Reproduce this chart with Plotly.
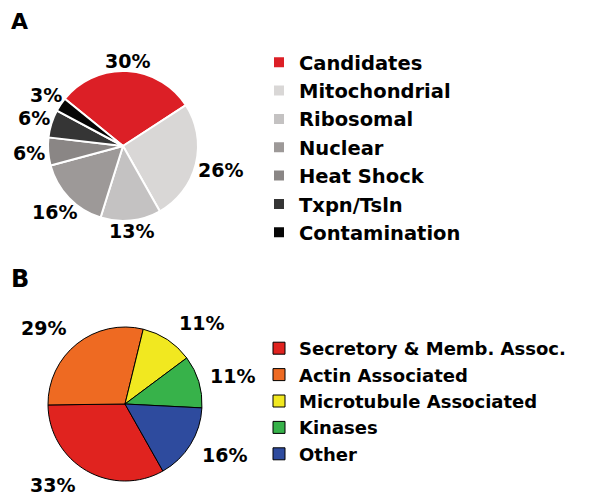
import math
import plotly.graph_objects as go

# Panel A data
a_labels = ["Candidates", "Mitochondrial", "Ribosomal", "Nuclear", "Heat Shock", "Txpn/Tsln", "Contamination"]
a_values = [30, 26, 13, 16, 6, 6, 3]
a_colors = ["#dc1f26", "#d9d7d6", "#c4c2c2", "#9d9998", "#8a8685", "#353535", "#060606"]

# Panel B data
b_labels = ["Secretory & Memb. Assoc.", "Actin Associated", "Microtubule Associated", "Kinases", "Other"]
b_values = [33, 29, 11, 11, 16]
b_colors = ["#e0231f", "#ee6a22", "#f1e820", "#37b24a", "#2e4b9e"]

FONT = "DejaVu Sans"
W, H = 589, 497
PAGE_OFF = 8          # default <body> margin of the page holding the figure
LABEL_SIZE = 19

# pie geometry in page pixels: centre x, centre y, radius, start angle (clockwise from 12 o'clock)
A_GEOM = dict(cx=123, cy=146, r=75, rot=309)
B_GEOM = dict(cx=125, cy=404, r=77, rot=150.5)


def fx(px):
    return (px - PAGE_OFF) / W


def fy(py):
    return 1 - (py - PAGE_OFF) / H


def dom(g):
    cx, cy, r = g["cx"], g["cy"], g["r"]
    return dict(x=[fx(cx - r), fx(cx + r)], y=[fy(cy + r), fy(cy - r)])


def text_width(s, size):
    return sum(1.002 if ch == "%" else 0.696 for ch in s) * size


def pct_labels(values, g, mode):
    total = float(sum(values))
    anns = []
    cum = 0.0
    for v in values:
        mid = math.radians(g["rot"] + (cum + v / 2.0) / total * 360.0)
        cum += v
        s, c = math.sin(mid), math.cos(mid)
        txt = f"{v}%"
        hw = text_width(txt, LABEL_SIZE) / 2.0
        hh = 0.73 * LABEL_SIZE / 2.0
        if mode == "edge":
            d = g["r"] + 3 + math.hypot(hw * s, hh * c)
            px, py = g["cx"] + d * s, g["cy"] - d * c
        else:
            px = g["cx"] + g["r"] * s + math.copysign(hw + 11, s)
            py = g["cy"] - g["r"] * c - 20 * c
        py = min(py, H - 12)  # keep the label inside the picture
        anns.append(dict(text=txt, x=fx(px), y=fy(py), xref="paper", yref="paper",
                         xanchor="center", yanchor="middle", showarrow=False,
                         font=dict(family=FONT, size=LABEL_SIZE, color="black", weight="bold")))
    return anns


fig = go.Figure()
fig.add_trace(go.Pie(
    labels=a_labels, values=a_values, sort=False, direction="clockwise", rotation=A_GEOM["rot"],
    marker=dict(colors=a_colors, line=dict(color="white", width=2)),
    textinfo="none", domain=dom(A_GEOM),
    legend="legend", hoverinfo="label+percent",
))
fig.add_trace(go.Pie(
    labels=b_labels, values=b_values, sort=False, direction="clockwise", rotation=B_GEOM["rot"],
    marker=dict(colors=b_colors, line=dict(color="black", width=1)),
    textinfo="none", domain=dom(B_GEOM),
    legend="legend2", hoverinfo="label+percent",
))

annotations = pct_labels(a_values, A_GEOM, "edge") + pct_labels(b_values, B_GEOM, "side")
annotations += [
    dict(text="A", x=1 / W, y=1 + 1 / H, xref="paper", yref="paper",
         xanchor="left", yanchor="top", showarrow=False,
         font=dict(family=FONT, size=22, color="black", weight="bold")),
    dict(text="B", x=1 / W, y=1 - 255 / H, xref="paper", yref="paper",
         xanchor="left", yanchor="top", showarrow=False,
         font=dict(family=FONT, size=24, color="black", weight="bold")),
]

fig.update_layout(
    width=W, height=H,
    margin=dict(l=0, r=0, t=0, b=0, autoexpand=False),
    paper_bgcolor="white", plot_bgcolor="white",
    font=dict(family=FONT, color="black"),
    legend=dict(x=251 / W, y=1 - 35 / H, xanchor="left", yanchor="top",
                font=dict(family=FONT, size=19.5, color="black", weight="bold"),
                traceorder="normal", bgcolor="rgba(0,0,0,0)"),
    legend2=dict(x=251 / W, y=1 - 322 / H, xanchor="left", yanchor="top",
                 font=dict(family=FONT, size=18, color="black", weight="bold"),
                 traceorder="normal", bgcolor="rgba(0,0,0,0)"),
    annotations=annotations,
)

fig.write_html("out.html")
